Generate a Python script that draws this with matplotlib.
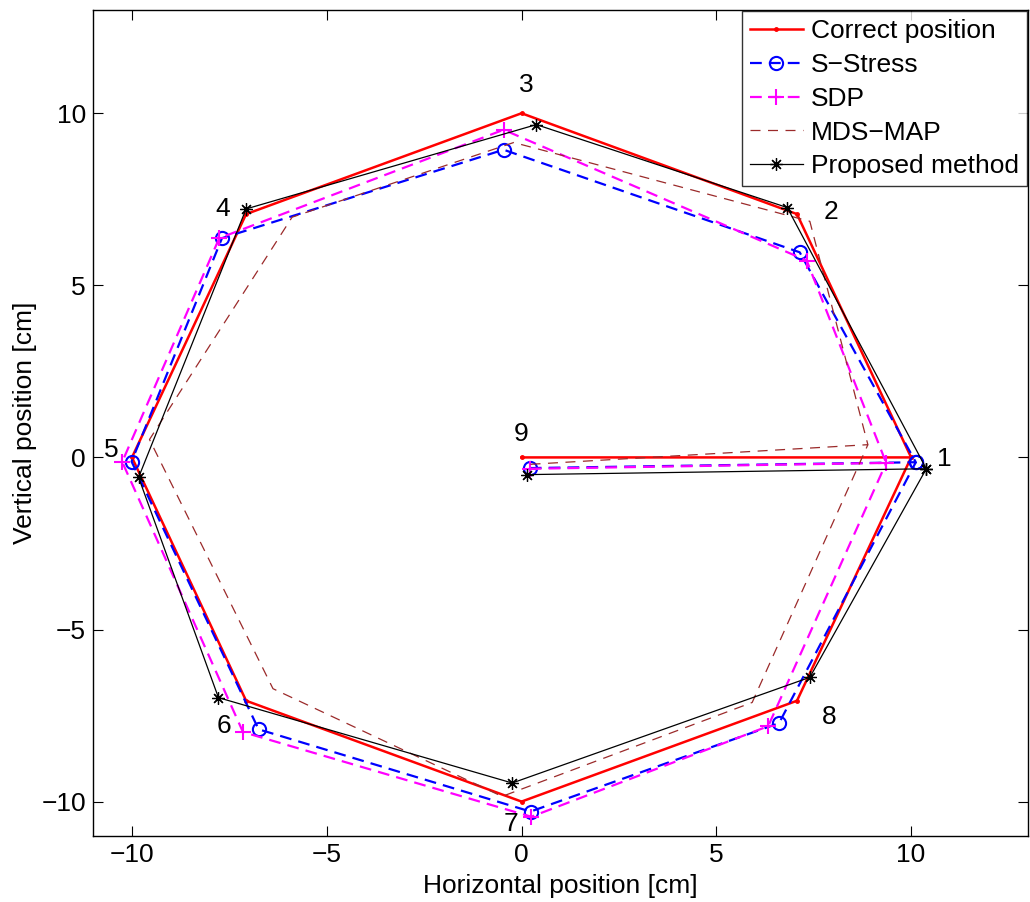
import matplotlib
matplotlib.use("Agg")
import matplotlib.pyplot as plt
import numpy as np

plt.rcParams['font.family'] = ['Liberation Sans', 'DejaVu Sans']

# Node positions for nodes 1..9
correct_x = [10, 7.07, 0, -7.07, -10, -7.07, 0, 7.07, 0]
correct_y = [0, 7.07, 10, 7.07, 0, -7.07, -10, -7.07, 0]

sstress_x = [10.12, 7.14, -0.46, -7.69, -10.01, -6.75, 0.23, 6.61, 0.21]
sstress_y = [-0.14, 5.96, 8.94, 6.37, -0.12, -7.90, -10.29, -7.72, -0.31]

sdp_x = [9.36, 7.32, -0.46, -7.76, -10.25, -7.15, 0.25, 6.33, 0.21]
sdp_y = [-0.16, 5.72, 9.52, 6.37, -0.13, -7.98, -10.44, -7.81, -0.33]

mds_x = [8.89, 7.40, -0.2, -5.89, -9.55, -6.38, -0.5, 5.92, 0.23]
mds_y = [0.37, 6.86, 9.15, 6.98, 0.52, -6.72, -9.85, -7.12, -0.20]

prop_x = [10.39, 6.82, 0.38, -7.07, -9.83, -7.78, -0.24, 7.40, 0.13]
prop_y = [-0.33, 7.26, 9.67, 7.22, -0.58, -6.98, -9.46, -6.39, -0.50]

node_labels = ['1', '2', '3', '4', '5', '6', '7', '8', '9']
label_x = [10.86, 7.94, 0.13, -7.66, -10.52, -7.63, -0.26, 7.90, 0.0]
label_y = [-0.06, 7.12, 10.83, 7.23, 0.23, -7.81, -10.65, -7.55, 0.67]

# drawing order: 9 -> 1 -> 2 ... -> 8 -> 1
path = [8, 0, 1, 2, 3, 4, 5, 6, 7, 0]

def seq(v):
    return [v[i] for i in path]

FS = 19

fig = plt.figure(figsize=(10.30, 9.02), dpi=100)
ax = fig.add_axes([93/1030, 1-836/902, (1028-93)/1030, (836-10)/902])

ax.plot(seq(correct_x), seq(correct_y), color='red', lw=1.8, marker='.', ms=5,
        label='Correct position')
ax.plot(seq(sstress_x), seq(sstress_y), color='blue', lw=1.6, ls=(0, (5.3, 3.2)),
        marker='o', ms=9.5, mfc='none', mew=1.5, label='S\u2212Stress')
ax.plot(seq(sdp_x), seq(sdp_y), color='magenta', lw=1.6, ls=(0, (5.3, 3.2)),
        marker='+', ms=11, mew=1.5, label='SDP')
ax.plot(seq(mds_x), seq(mds_y), color='#9b2a2a', lw=0.9, ls=(0, (8, 6)),
        label='MDS\u2212MAP')
ax.plot(seq(prop_x), seq(prop_y), color='black', lw=0.9, marker=(8, 2, 0), ms=9,
        mew=0.9, label='Proposed method')

for t, lx, ly in zip(node_labels, label_x, label_y):
    ax.text(lx, ly, t, ha='center', va='center', fontsize=FS)

ax.set_xlim(-11, 13)
ax.set_ylim(-11, 13)
ticks = [-10, -5, 0, 5, 10]
ax.set_xticks(ticks)
ax.set_yticks(ticks)
ax.set_xticklabels(['\u221210', '\u22125', '0', '5', '10'])
ax.set_yticklabels(['\u221210', '\u22125', '0', '5', '10'])
ax.tick_params(direction='in', top=True, right=True, labelsize=FS, length=7,
               width=0.8, pad=5)
for s in ax.spines.values():
    s.set_linewidth(1.0)
ax.set_xlabel('Horizontal position [cm]', fontsize=FS, labelpad=5)
ax.set_ylabel('Vertical position [cm]', fontsize=FS, labelpad=3)

leg = ax.legend(loc='upper right', fontsize=FS, frameon=True, fancybox=False,
                edgecolor='black', borderaxespad=0.05, handlelength=2.0,
                handletextpad=0.3, labelspacing=0.37, borderpad=0.3)
leg.get_frame().set_linewidth(1.0)

fig.savefig('out.png', dpi=100)
